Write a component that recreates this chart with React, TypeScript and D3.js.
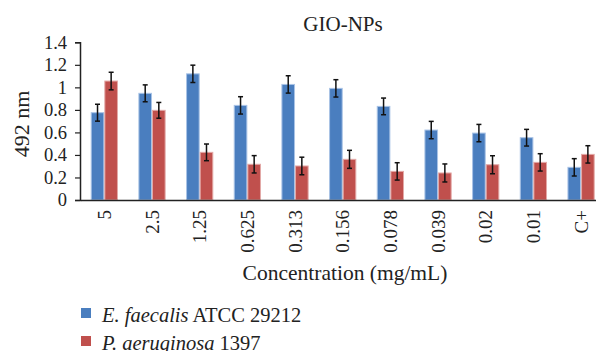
import React, { useEffect, useRef } from 'react';
import * as d3 from 'd3';

// concentrations (mg/mL), last one is the positive control
const categories = ['5', '2.5', '1.25', '0.625', '0.313', '0.156', '0.078', '0.039', '0.02', '0.01', 'C+'];
const faecalis = [0.775, 0.947, 1.12, 0.84, 1.026, 0.991, 0.831, 0.621, 0.594, 0.553, 0.29];
const faecalisErr = [0.075, 0.075, 0.077, 0.077, 0.077, 0.077, 0.074, 0.077, 0.077, 0.074, 0.077];
const aeruginosa = [1.056, 0.796, 0.423, 0.317, 0.302, 0.361, 0.254, 0.24, 0.313, 0.334, 0.405];
const aeruginosaErr = [0.078, 0.07, 0.074, 0.077, 0.078, 0.08, 0.077, 0.08, 0.08, 0.077, 0.077];
const yTicks = [0, 0.2, 0.4, 0.6, 0.8, 1, 1.2, 1.4];

const seriesNames = ['faecalis', 'aeruginosa'];
const colors = ['#4a7ebf', '#c0504d'];
const borders = ['#a9c3e6', '#e3a9a7'];

const font = '"Liberation Serif", "Times New Roman", serif';

export default function App() {
  const ref = useRef<SVGSVGElement>(null);

  useEffect(() => {
    document.body.style.margin = '0';
    const svg = d3.select(ref.current);
    svg.selectAll('*').remove();

    const x = d3.scaleBand().domain(categories).range([80.5, 604.9]).paddingInner(0.4286).paddingOuter(0.2143);
    const xs = d3.scaleBand().domain(seriesNames).range([0, x.bandwidth()]);
    const y = d3.scaleLinear().domain([0, 1.4]).range([200, 42.3]);

    const data = [
      { vals: faecalis, errs: faecalisErr },
      { vals: aeruginosa, errs: aeruginosaErr },
    ];

    // bars
    data.forEach((s, si) => {
      svg.append('g')
        .selectAll('rect')
        .data(categories)
        .enter()
        .append('rect')
        .attr('x', (c) => x(c)! + xs(seriesNames[si])! + 0.5)
        .attr('y', (c, i) => y(s.vals[i]))
        .attr('width', xs.bandwidth() - 1)
        .attr('height', (c, i) => y(0) - y(s.vals[i]))
        .attr('fill', colors[si])
        .attr('stroke', borders[si])
        .attr('stroke-width', 1);
    });

    // error bars
    data.forEach((s, si) => {
      const g = svg.append('g').attr('stroke', '#111').attr('stroke-width', 1.5);
      categories.forEach((c, i) => {
        const cx = x(c)! + xs(seriesNames[si])! + xs.bandwidth() / 2;
        const lo = y(s.vals[i] - s.errs[i]);
        const hi = y(s.vals[i] + s.errs[i]);
        g.append('line').attr('x1', cx).attr('x2', cx).attr('y1', lo).attr('y2', hi);
        g.append('line').attr('x1', cx - 2.5).attr('x2', cx + 2.5).attr('y1', lo).attr('y2', lo);
        g.append('line').attr('x1', cx - 2.5).attr('x2', cx + 2.5).attr('y1', hi).attr('y2', hi);
      });
    });

    // y axis
    const yAxis = svg.append('g')
      .attr('transform', 'translate(80,0)')
      .call(d3.axisLeft(y).tickValues(yTicks).tickSize(5).tickFormat((d) => String(d)));
    yAxis.select('.domain').attr('stroke', '#222').attr('stroke-width', 1.5);
    yAxis.selectAll('.tick line').attr('stroke', '#222').attr('stroke-width', 1.2);
    yAxis.selectAll('.tick text')
      .attr('x', -13)
      .attr('fill', '#222')
      .style('font-family', font)
      .style('font-size', '18.5px');

    // x axis
    const xAxis = svg.append('g')
      .attr('transform', 'translate(0,200)')
      .call(d3.axisBottom(x).tickSize(0).tickSizeOuter(0));
    xAxis.select('.domain').attr('stroke', '#222').attr('stroke-width', 1.5);
    xAxis.selectAll('.tick text')
      .attr('transform', 'rotate(-90)')
      .attr('x', -10)
      .attr('y', 0)
      .attr('dy', '0.35em')
      .attr('text-anchor', 'end')
      .attr('fill', '#222')
      .style('font-family', font)
      .style('font-size', '19px');

    // titles
    svg.append('text')
      .attr('x', 343)
      .attr('y', 31)
      .attr('text-anchor', 'middle')
      .attr('fill', '#222')
      .style('font-family', font)
      .style('font-size', '21px')
      .text('GIO-NPs');

    svg.append('text')
      .attr('x', 345)
      .attr('y', 280)
      .attr('text-anchor', 'middle')
      .attr('fill', '#222')
      .style('font-family', font)
      .style('font-size', '21.5px')
      .text('Concentration (mg/mL)');

    svg.append('text')
      .attr('transform', 'translate(29,124) rotate(-90)')
      .attr('text-anchor', 'middle')
      .attr('fill', '#222')
      .style('font-family', font)
      .style('font-size', '22px')
      .text('492 nm');

    // legend
    const legend = [
      { italic: 'E. faecalis', rest: ' ATCC 29212' },
      { italic: 'P. aeruginosa', rest: ' 1397' },
    ];
    legend.forEach((l, i) => {
      const ly = 308 + i * 28;
      svg.append('rect').attr('x', 81).attr('y', ly).attr('width', 10).attr('height', 10).attr('fill', colors[i]);
      const t = svg.append('text')
        .attr('x', 102)
        .attr('y', ly + 14)
        .attr('fill', '#222')
        .style('font-family', font)
        .style('font-size', '20.5px');
      t.append('tspan').style('font-style', 'italic').text(l.italic);
      t.append('tspan').text(l.rest);
    });
  }, []);

  return <svg ref={ref} width={596} height={351} style={{ display: 'block', background: '#fff' }} />;
}
